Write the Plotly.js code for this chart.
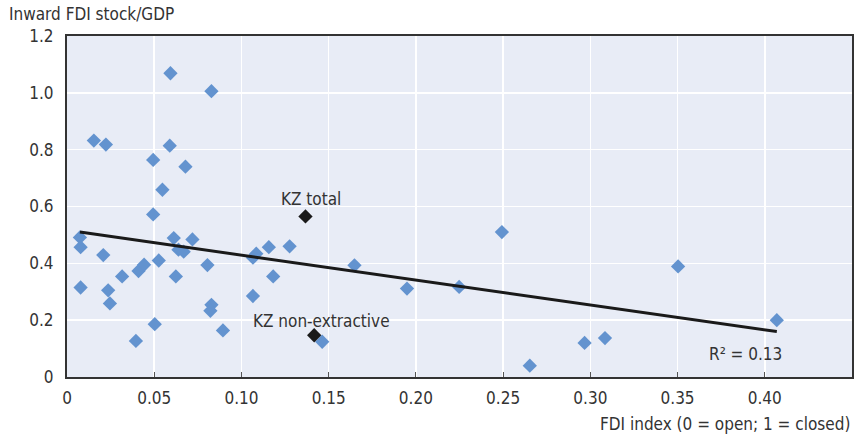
<!DOCTYPE html>
<html>
<head>
<meta charset="utf-8">
<script src="https://cdn.plot.ly/plotly-3.0.1.min.js"></script>
<style>html,body{margin:0;padding:0;background:#fff}#chart{width:855px;height:438px}</style>
</head>
<body>
<div id="chart"></div>
<script>
// Countries: FDI index vs inward FDI stock/GDP
const fdiIndex = [0.0074,0.0078,0.0078,0.0154,0.0223,0.0208,0.0236,0.0246,0.0316,0.0395,0.041,0.0442,0.0494,0.0494,0.0503,0.0526,0.0547,0.0593,0.0589,0.0612,0.0624,0.0639,0.0669,0.0679,0.0719,0.0805,0.0828,0.0828,0.0822,0.0894,0.1066,0.1066,0.1085,0.1157,0.1182,0.1276,0.1463,0.1648,0.1949,0.2248,0.2493,0.2653,0.2967,0.3084,0.3503,0.4069];
const fdiStock = [0.491,0.457,0.315,0.832,0.818,0.429,0.305,0.259,0.354,0.127,0.373,0.395,0.572,0.764,0.186,0.41,0.659,1.069,0.814,0.489,0.354,0.448,0.441,0.740,0.484,0.394,1.006,0.254,0.233,0.164,0.285,0.42,0.434,0.457,0.354,0.46,0.124,0.393,0.311,0.317,0.51,0.04,0.12,0.137,0.389,0.2];
// Kazakhstan
const kzIndex = [0.1367,0.1417];
const kzStock = [0.565,0.147];
const kzLabels = ["KZ total","KZ non-extractive"];
// Linear trend
const trendX = [0.0074,0.4069];
const trendY = [0.51,0.16];
const r2Label = "R² = 0.13";
const xTickVals = [0,0.05,0.10,0.15,0.20,0.25,0.30,0.35,0.40,0.45];
const xTickText = ["0","0.05","0.10","0.15","0.20","0.25","0.30","0.35","0.40","0.45"];
const yTickVals = [0,0.2,0.4,0.6,0.8,1.0,1.2];
const yTickText = ["0","0.2","0.4","0.6","0.8","1.0","1.2"];

const FONT = "'DejaVu Sans Condensed', 'Roboto', sans-serif";
const FS = 17;
const traces = [
  {x: fdiIndex, y: fdiStock, type:'scatter', mode:'markers',
   marker:{symbol:'diamond', size:11, color:'#6393cf'}, hoverinfo:'x+y'},
  {x: trendX, y: trendY, type:'scatter', mode:'lines', line:{color:'#1a1a1a', width:3}},
  {x: kzIndex, y: kzStock, type:'scatter', mode:'markers',
   marker:{symbol:'diamond', size:11, color:'#1a1a1a'}}
];
const layout = {
  width:855, height:438,
  margin:{l:67, r:3, t:36, b:61},
  paper_bgcolor:'#ffffff', plot_bgcolor:'#e8ecf6',
  showlegend:false,
  font:{family:FONT, size:FS, color:'#333'},
  xaxis:{range:[0,0.45], tickvals:xTickVals, ticktext:xTickText, showgrid:true, gridcolor:'#ffffff', gridwidth:1.5,
         zeroline:false, showline:true, linecolor:'#333', linewidth:2, mirror:true,
         ticks:'inside', ticklen:5, tickcolor:'#555', ticklabelstandoff:5, tickfont:{family:FONT, size:FS, color:'#333'}},
  yaxis:{range:[0,1.2], tickvals:yTickVals, ticktext:yTickText, showgrid:true, gridcolor:'#ffffff', gridwidth:1.5,
         zeroline:false, showline:true, linecolor:'#333', linewidth:2, mirror:true,
         ticks:'', ticklabelstandoff:8, tickfont:{family:FONT, size:FS, color:'#333'}},
  annotations:[
    {x:kzIndex[0], y:kzStock[0], xref:'x', yref:'y', text:kzLabels[0], showarrow:false, yshift:17, xshift:6,
     font:{family:FONT, size:FS, color:'#333'}},
    {x:kzIndex[1], y:kzStock[1], xref:'x', yref:'y', text:kzLabels[1], showarrow:false, yshift:14, xshift:7,
     font:{family:FONT, size:FS, color:'#333'}},
    {x:trendX[1], y:trendY[1], xref:'x', yref:'y', text:r2Label, showarrow:false, yshift:-22, xshift:-31,
     font:{family:FONT, size:FS, color:'#333'}},
    {x:0, y:1, xref:'paper', yref:'paper', text:'Inward FDI stock/GDP', showarrow:false,
     xanchor:'left', yanchor:'bottom', xshift:-60, yshift:10, font:{family:FONT, size:FS, color:'#333'}},
    {x:1, y:0, xref:'paper', yref:'paper', text:'FDI index (0 = open; 1 = closed)', showarrow:false,
     xanchor:'right', yanchor:'top', yshift:-35, font:{family:FONT, size:FS, color:'#333'}}
  ]
};
Plotly.newPlot('chart', traces, layout, {displayModeBar:false, staticPlot:true});
</script>
</body>
</html>
